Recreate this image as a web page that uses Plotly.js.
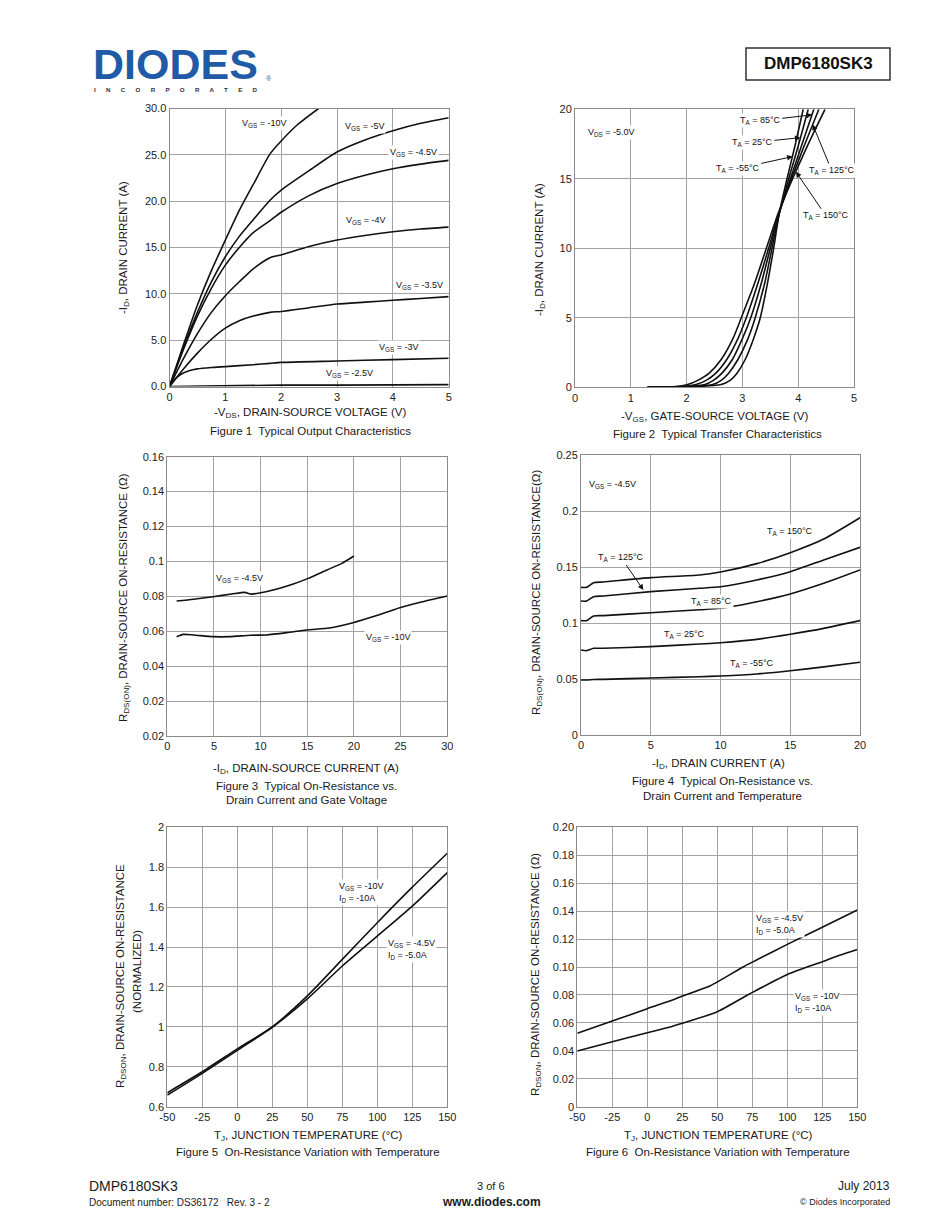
<!DOCTYPE html>
<html><head><meta charset="utf-8">
<script src="https://cdn.plot.ly/plotly-3.0.1.min.js"></script>
<style>html,body{margin:0;padding:0;background:#fff;} #chart{width:950px;height:1230px;}</style>
</head><body><div id="chart"></div>
<script>
// ---------- Figure 1: Typical Output Characteristics ----------
const fig1_x_vgs10 = [0,0.25,0.5,0.75,1.0,1.25,1.5,1.8,2.0,2.3,2.67];
const fig1_i_vgs10 = [0,4.5,8.8,12.5,15.8,19.0,21.8,25.1,26.5,28.3,30];
const fig1_x = [0,0.25,0.5,0.75,1.0,1.25,1.5,1.8,2.0,2.5,3.0,3.5,4.0,4.5,5.0];
const fig1_i_vgs5  = [0,4.2,8.0,11.3,14.0,16.2,18.0,20.1,21.2,23.3,25.3,26.6,27.6,28.4,29.0];
const fig1_i_vgs45 = [0,4.0,7.6,10.6,13.1,15.0,16.6,17.9,18.8,20.6,21.9,22.8,23.5,24.0,24.4];
const fig1_i_vgs4  = [0,3.0,5.7,8.0,9.8,11.3,12.7,13.9,14.2,15.1,15.8,16.3,16.7,17.0,17.2];
const fig1_i_vgs35 = [0,1.9,3.6,5.1,6.3,7.1,7.6,8.0,8.1,8.5,8.9,9.1,9.3,9.5,9.7];
const fig1_x_vgs3  = [0,0.1,0.2,0.35,0.5,0.75,1.0,1.5,1.8,2.0,3.0,4.0,5.0];
const fig1_i_vgs3  = [0,0.8,1.3,1.7,1.9,2.05,2.15,2.35,2.5,2.6,2.75,2.9,3.05];
const fig1_x_vgs25 = [0,0.5,1.0,1.7,2.0,3.0,5.0];
const fig1_i_vgs25 = [0,0.05,0.05,0.1,0.15,0.15,0.2];
const fig1_yticks = [0,5,10,15,20,25,30];
const fig1_yticktext = ['0.0','5.0','10.0','15.0','20.0','25.0','30.0'];

// ---------- Figure 2: Typical Transfer Characteristics ----------
const fig2_i = [0,0.05,0.2,0.5,1,2,3.5,5,7.5,10,12.5,15,17.5,20];
const fig2_x_m55 = [1.3,2.2,2.62,2.78,2.9,3.05,3.2,3.32,3.45,3.56,3.66,3.80,3.95,4.09];
const fig2_x_25  = [1.3,2.1,2.47,2.62,2.75,2.92,3.1,3.23,3.40,3.53,3.66,3.83,4.01,4.18];
const fig2_x_85  = [1.3,2.0,2.33,2.48,2.63,2.82,3.0,3.15,3.34,3.50,3.66,3.86,4.07,4.28];
const fig2_x_125 = [1.3,1.9,2.17,2.35,2.52,2.72,2.92,3.07,3.28,3.47,3.65,3.88,4.12,4.37];
const fig2_x_150 = [1.3,1.8,2.02,2.2,2.4,2.62,2.83,2.98,3.22,3.43,3.64,3.90,4.18,4.48];

// ---------- Figure 3: On-Resistance vs Drain Current and Gate Voltage ----------
const fig3_id_45 = [1.0,2.8,4.9,6.9,8.3,9.0,11.0,13.5,15.1,17.1,18.7,20.0];
const fig3_r_45  = [0.0773,0.0783,0.0798,0.0813,0.0823,0.0813,0.0832,0.0871,0.0903,0.0951,0.0989,0.1031];
const fig3_id_10 = [1.0,1.7,2.8,4.9,6.7,8.9,10.6,12.8,14.9,17.1,18.1,19.9,22.1,24.9,27.1,30.0];
const fig3_r_10  = [0.0569,0.0582,0.0579,0.0569,0.0569,0.0577,0.0579,0.0592,0.0607,0.0617,0.0626,0.0649,0.0684,0.0735,0.0766,0.0802];
const fig3_yticks = [0,0.02,0.04,0.06,0.08,0.1,0.12,0.14,0.16];
const fig3_yticktext = ['0.02','0.02','0.04','0.06','0.08','0.1','0.12','0.14','0.16'];

// ---------- Figure 4: On-Resistance vs Drain Current and Temperature ----------
const fig4_id = [0,0.4,0.9,1.6,5.0,8.5,10.0,12.6,15.0,17.4,20.0];
const fig4_r_150 = [0.1318,0.1318,0.1360,0.1366,0.1405,0.1428,0.1455,0.1530,0.1628,0.1750,0.1940];
const fig4_r_125 = [0.1196,0.1196,0.1235,0.1241,0.1280,0.1310,0.1324,0.1384,0.1458,0.1563,0.1676];
const fig4_r_85  = [0.1021,0.1021,0.1063,0.1066,0.1092,0.1118,0.1131,0.1190,0.1259,0.1354,0.1473];
const fig4_r_25  = [0.0759,0.0753,0.0774,0.0774,0.0789,0.0812,0.0824,0.0854,0.0899,0.0952,0.1021];
const fig4_r_m55 = [0.0491,0.0491,0.0495,0.0497,0.0509,0.0520,0.0527,0.0545,0.0574,0.0608,0.0649];
const fig4_yticks = [0,0.05,0.1,0.15,0.2,0.25];
const fig4_yticktext = ['0','0.05','0.1','0.15','0.2','0.25'];

// ---------- Figure 5: Normalized On-Resistance vs Temperature ----------
const fig5_t = [-50,-25,0,25,50,75,100,125,150];
const fig5_r_10 = [0.670,0.775,0.890,1.000,1.155,1.338,1.522,1.700,1.870];
const fig5_r_45 = [0.658,0.767,0.882,0.998,1.140,1.305,1.455,1.605,1.773];
const fig5_yticks = [0.6,0.8,1,1.2,1.4,1.6,1.8,2];
const fig5_yticktext = ['0.6','0.8','1','1.2','1.4','1.6','1.8','2'];

// ---------- Figure 6: On-Resistance vs Temperature ----------
const fig6_t_45 = [-50,-25,0,18,25,45,68,78,100,125,150];
const fig6_r_45 = [0.0525,0.0613,0.0702,0.0764,0.0792,0.0866,0.0998,0.1050,0.1162,0.1284,0.1408];
const fig6_t_10 = [-50,-25,0,17,25,50,73,100,125,138,150];
const fig6_r_10 = [0.0399,0.0465,0.0530,0.0573,0.0597,0.0680,0.0807,0.0947,0.1038,0.1086,0.1126];
const fig6_yticks = [0,0.02,0.04,0.06,0.08,0.1,0.12,0.14,0.16,0.18,0.2];
const fig6_yticktext = ['0','0.02','0.04','0.06','0.08','0.10','0.12','0.14','0.16','0.18','0.20'];

// shared temperature ticks (Figures 5 and 6)
const temp_ticks = [-50,-25,0,25,50,75,100,125,150];
const temp_ticktext = ['-50','-25','0','25','50','75','100','125','150'];

// ---------- layout helpers ----------
const W = 950, H = 1230;
const FONT = 'Liberation Sans, Arial, Helvetica, sans-serif';
const px = x => x / W;
const py = y => 1 - y / H;
function xdom(a, b) { return [a / W, b / W]; }
function ydom(top, bottom) { return [1 - bottom / H, 1 - top / H]; }

function axis(domain, range, anchor, opts) {
  return Object.assign({
    domain: domain, range: range, anchor: anchor,
    showline: true, mirror: true, linecolor: '#8a8a8a', linewidth: 1,
    showgrid: true, gridcolor: '#a3a3a3', gridwidth: 1,
    zeroline: false, ticks: '', fixedrange: true,
    tickfont: {family: FONT, size: 11, color: '#222'}
  }, opts || {});
}

const LINE = {color: '#111', width: 1.6, shape: 'spline', smoothing: 0.6};
function tr(x, y, xa, ya, shape) {
  const line = Object.assign({}, LINE);
  if (shape) line.shape = shape;
  return {x: x, y: y, xaxis: xa, yaxis: ya, mode: 'lines', line: line, hoverinfo: 'skip', showlegend: false};
}

const data = [
  tr(fig1_x_vgs10, fig1_i_vgs10, 'x', 'y'),
  tr(fig1_x, fig1_i_vgs5, 'x', 'y'),
  tr(fig1_x, fig1_i_vgs45, 'x', 'y'),
  tr(fig1_x, fig1_i_vgs4, 'x', 'y'),
  tr(fig1_x, fig1_i_vgs35, 'x', 'y'),
  tr(fig1_x_vgs3, fig1_i_vgs3, 'x', 'y'),
  tr(fig1_x_vgs25, fig1_i_vgs25, 'x', 'y', 'linear'),
  tr(fig2_x_150, fig2_i, 'x2', 'y2'),
  tr(fig2_x_125, fig2_i, 'x2', 'y2'),
  tr(fig2_x_85, fig2_i, 'x2', 'y2'),
  tr(fig2_x_25, fig2_i, 'x2', 'y2'),
  tr(fig2_x_m55, fig2_i, 'x2', 'y2'),
  tr(fig3_id_45, fig3_r_45, 'x3', 'y3'),
  tr(fig3_id_10, fig3_r_10, 'x3', 'y3'),
  tr(fig4_id, fig4_r_150, 'x4', 'y4'),
  tr(fig4_id, fig4_r_125, 'x4', 'y4'),
  tr(fig4_id, fig4_r_85, 'x4', 'y4'),
  tr(fig4_id, fig4_r_25, 'x4', 'y4'),
  tr(fig4_id, fig4_r_m55, 'x4', 'y4'),
  tr(fig5_t, fig5_r_10, 'x5', 'y5'),
  tr(fig5_t, fig5_r_45, 'x5', 'y5'),
  tr(fig6_t_45, fig6_r_45, 'x6', 'y6'),
  tr(fig6_t_10, fig6_r_10, 'x6', 'y6')
];

// data-space labels
function lab(xr, yr, x, y, text, opts) {
  return Object.assign({xref: xr, yref: yr, x: x, y: y, text: text, showarrow: false,
    font: {family: FONT, size: 9, color: '#111'}, bgcolor: 'rgba(255,255,255,1)', borderpad: 1}, opts || {});
}
function arr(xr, yr, x, y, text, ax, ay) {
  return {xref: xr, yref: yr, x: x, y: y, text: text, showarrow: true, ax: ax, ay: ay,
    arrowhead: 2, arrowsize: 1.1, arrowwidth: 1, arrowcolor: '#111', standoff: 0,
    font: {family: FONT, size: 9, color: '#111'}, bgcolor: 'rgba(255,255,255,1)', borderpad: 1};
}
// paper-space text
function ptxt(x, y, text, size, opts) {
  return Object.assign({xref: 'paper', yref: 'paper', x: px(x), y: py(y), text: text, showarrow: false,
    xanchor: 'center', yanchor: 'middle', font: {family: FONT, size: size, color: '#1a1a1a'}}, opts || {});
}

const annotations = [
  // Figure 1 labels
  lab('x', 'y', 1.70, 28.4, 'V<sub>GS</sub> = -10V'),
  lab('x', 'y', 3.50, 28.1, 'V<sub>GS</sub> = -5V'),
  lab('x', 'y', 4.37, 25.2, 'V<sub>GS</sub> = -4.5V'),
  lab('x', 'y', 3.51, 17.9, 'V<sub>GS</sub> = -4V'),
  lab('x', 'y', 4.48, 10.9, 'V<sub>GS</sub> = -3.5V'),
  lab('x', 'y', 4.10, 4.2, 'V<sub>GS</sub> = -3V'),
  lab('x', 'y', 3.23, 1.4, 'V<sub>GS</sub> = -2.5V'),
  // Figure 2 labels
  lab('x2', 'y2', 0.65, 18.3, 'V<sub>DS</sub> = -5.0V'),
  arr('x2', 'y2', 4.25, 19.6, 'T<sub>A</sub> = 85°C', -52, 6),
  arr('x2', 'y2', 4.04, 17.96, 'T<sub>A</sub> = 25°C', -48, 5),
  arr('x2', 'y2', 3.90, 16.6, 'T<sub>A</sub> = -55°C', -55, 12),
  arr('x2', 'y2', 4.26, 18.9, 'T<sub>A</sub> = 125°C', 19, 46),
  arr('x2', 'y2', 3.96, 15.5, 'T<sub>A</sub> = 150°C', 30, 44),
  // Figure 3 labels
  lab('x3', 'y3', 7.7, 0.0903, 'V<sub>GS</sub> = -4.5V'),
  lab('x3', 'y3', 23.6, 0.0565, 'V<sub>GS</sub> = -10V'),
  // Figure 4 labels
  lab('x4', 'y4', 2.27, 0.2238, 'V<sub>GS</sub> = -4.5V'),
  lab('x4', 'y4', 14.98, 0.1815, 'T<sub>A</sub> = 150°C'),
  arr('x4', 'y4', 4.47, 0.1295, 'T<sub>A</sub> = 125°C', -22, -32),
  lab('x4', 'y4', 9.37, 0.119, 'T<sub>A</sub> = 85°C'),
  lab('x4', 'y4', 7.41, 0.0893, 'T<sub>A</sub> = 25°C'),
  lab('x4', 'y4', 12.24, 0.064, 'T<sub>A</sub> = -55°C'),
  // Figure 5 labels
  lab('x5', 'y5', 71, 1.672, 'V<sub>GS</sub> = -10V<br>I<sub>D</sub> = -10A', {xanchor: 'left', align: 'left'}),
  lab('x5', 'y5', 106.5, 1.390, 'V<sub>GS</sub> = -4.5V<br>I<sub>D</sub> = -5.0A', {xanchor: 'left', align: 'left'}),
  // Figure 6 labels
  lab('x6', 'y6', 76, 0.1305, 'V<sub>GS</sub> = -4.5V<br>I<sub>D</sub> = -5.0A', {xanchor: 'left', align: 'left'}),
  lab('x6', 'y6', 103.8, 0.0745, 'V<sub>GS</sub> = -10V<br>I<sub>D</sub> = -10A', {xanchor: 'left', align: 'left'}),

  // axis titles and captions
  ptxt(310, 413, '-V<sub>DS</sub>, DRAIN-SOURCE VOLTAGE (V)', 11.5),
  ptxt(310, 431, 'Figure 1  Typical Output Characteristics', 11.5),
  ptxt(124, 248, '-I<sub>D</sub>, DRAIN CURRENT (A)', 11.5, {textangle: -90}),
  ptxt(715, 417, '-V<sub>GS</sub>, GATE-SOURCE VOLTAGE (V)', 11.5),
  ptxt(717, 434, 'Figure 2  Typical Transfer Characteristics', 11.5),
  ptxt(540, 250, '-I<sub>D</sub>, DRAIN CURRENT (A)', 11.5, {textangle: -90}),
  ptxt(306, 769, '-I<sub>D</sub>, DRAIN-SOURCE CURRENT (A)', 11.5),
  ptxt(306, 786, 'Figure 3  Typical On-Resistance vs.', 11.5),
  ptxt(306, 800, 'Drain Current and Gate Voltage', 11.5),
  ptxt(124, 598, 'R<sub>DS(ON)</sub>, DRAIN-SOURCE ON-RESISTANCE (Ω)', 11.5, {textangle: -90}),
  ptxt(718, 764, '-I<sub>D</sub>, DRAIN CURRENT (A)', 11.5),
  ptxt(722, 781, 'Figure 4  Typical On-Resistance vs.', 11.5),
  ptxt(722, 796, 'Drain Current and Temperature', 11.5),
  ptxt(537, 593, 'R<sub>DS(ON)</sub>, DRAIN-SOURCE ON-RESISTANCE(Ω)', 11.5, {textangle: -90}),
  ptxt(308, 1136, 'T<sub>J</sub>, JUNCTION TEMPERATURE (°C)', 11.5),
  ptxt(308, 1152, 'Figure 5  On-Resistance Variation with Temperature', 11.5),
  ptxt(121, 976, 'R<sub>DSON</sub>, DRAIN-SOURCE ON-RESISTANCE', 11.5, {textangle: -90}),
  ptxt(137, 972, '(NORMALIZED)', 11.5, {textangle: -90}),
  ptxt(718, 1136, 'T<sub>J</sub>, JUNCTION TEMPERATURE (°C)', 11.5),
  ptxt(718, 1152, 'Figure 6  On-Resistance Variation with Temperature', 11.5),
  ptxt(536, 975, 'R<sub>DSON</sub>, DRAIN-SOURCE ON-RESISTANCE (Ω)', 11.5, {textangle: -90}),

  // header
  ptxt(91, 64, '<b>DIODES</b>', 43, {xanchor: 'left', font: {family: FONT, size: 43, color: '#1f5ba6'}}),
  ptxt(264, 78, '®', 7, {xanchor: 'left', font: {family: FONT, size: 7, color: '#1f5ba6'}}),
  ptxt(176, 89, '<b>I      N      C      O      R      P      O      R      A      T      E      D</b>', 6.2, {font: {family: FONT, size: 6.2, color: '#333'}}),
  ptxt(818, 64, '<b>DMP6180SK3</b>', 17, {font: {family: FONT, size: 17, color: '#111'}}),

  // footer
  ptxt(87, 1186, 'DMP6180SK3', 14, {xanchor: 'left'}),
  ptxt(87, 1202, 'Document number: DS36172   Rev. 3 - 2', 10, {xanchor: 'left'}),
  ptxt(491, 1186, '3 of 6', 11),
  ptxt(491, 1202, '<b>www.diodes.com</b>', 12),
  ptxt(892, 1186, 'July 2013', 12, {xanchor: 'right'}),
  ptxt(892, 1202, '© Diodes Incorporated', 9, {xanchor: 'right'})
];

const layout = {
  width: W, height: H,
  margin: {l: 0, r: 0, t: 0, b: 0},
  paper_bgcolor: '#fff', plot_bgcolor: '#fff',
  showlegend: false,
  font: {family: FONT, color: '#1a1a1a'},
  xaxis:  axis(xdom(169.5, 448.7), [0, 5], 'y',  {dtick: 1, tick0: 0}),
  yaxis:  axis(ydom(108.5, 386.5), [0, 30], 'x', {tickvals: fig1_yticks, ticktext: fig1_yticktext}),
  xaxis2: axis(xdom(575, 854), [0, 5], 'y2', {dtick: 1, tick0: 0}),
  yaxis2: axis(ydom(109.3, 387.3), [0, 20], 'x2', {dtick: 5, tick0: 0}),
  xaxis3: axis(xdom(167.3, 447.3), [0, 30], 'y3', {dtick: 5, tick0: 0}),
  yaxis3: axis(ydom(456.7, 736), [0, 0.16], 'x3', {tickvals: fig3_yticks, ticktext: fig3_yticktext}),
  xaxis4: axis(xdom(581, 860), [0, 20], 'y4', {dtick: 5, tick0: 0}),
  yaxis4: axis(ydom(455, 735), [0, 0.25], 'x4', {tickvals: fig4_yticks, ticktext: fig4_yticktext}),
  xaxis5: axis(xdom(167.3, 447.3), [-50, 150], 'y5', {tickvals: temp_ticks, ticktext: temp_ticktext}),
  yaxis5: axis(ydom(827.3, 1106.7), [0.6, 2], 'x5', {tickvals: fig5_yticks, ticktext: fig5_yticktext}),
  xaxis6: axis(xdom(577.3, 857.3), [-50, 150], 'y6', {tickvals: temp_ticks, ticktext: temp_ticktext}),
  yaxis6: axis(ydom(827.3, 1106.7), [0, 0.2], 'x6', {tickvals: fig6_yticks, ticktext: fig6_yticktext}),
  annotations: annotations,
  shapes: [
    {type: 'rect', xref: 'paper', yref: 'paper', x0: px(746), x1: px(890), y0: py(80), y1: py(48),
     line: {color: '#333', width: 1.5}, fillcolor: 'rgba(0,0,0,0)'}
  ]
};

Plotly.newPlot('chart', data, layout, {staticPlot: true, displayModeBar: false});
</script>
</body></html>
